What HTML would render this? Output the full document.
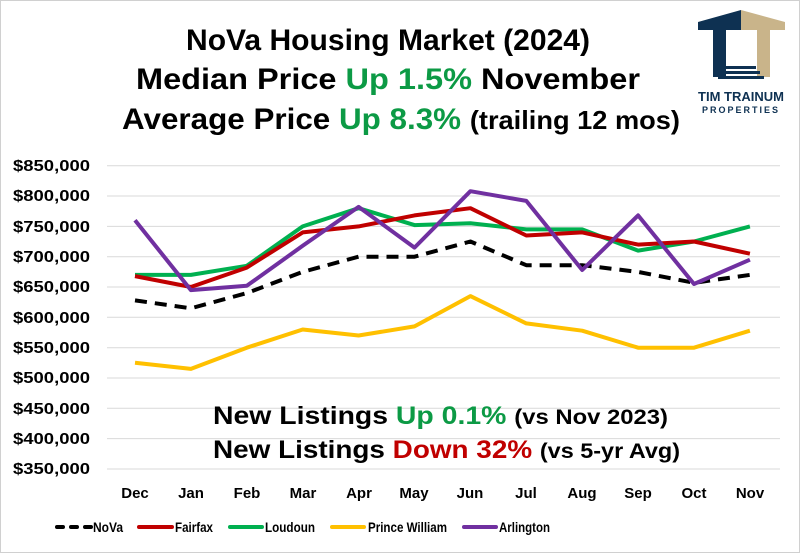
<!DOCTYPE html>
<html><head><meta charset="utf-8"><style>
body{margin:0;background:#fff}
svg{display:block;font-family:"Liberation Sans",sans-serif}
</style></head><body>
<svg width="800" height="553" viewBox="0 0 800 553">
<rect x="0.5" y="0.5" width="799" height="552" fill="#fff" stroke="#d0d0d0"/>
<g font-weight="bold" font-size="30" fill="#000">
<text x="186" y="50" textLength="404" lengthAdjust="spacingAndGlyphs">NoVa Housing Market (2024)</text>
<text x="136" y="89" textLength="504" lengthAdjust="spacingAndGlyphs">Median Price <tspan fill="#0c9a45">Up 1.5%</tspan> November</text>
<text x="122" y="129" textLength="558" lengthAdjust="spacingAndGlyphs">Average Price <tspan fill="#0c9a45">Up 8.3%</tspan> <tspan font-size="26">(trailing 12 mos)</tspan></text>
</g>
<g>
<polygon points="698,22 741,10 741,30 726,30 726,77 713,77 713,30 698,30" fill="#0e3152"/>
<polygon points="741,10 785,22 785,30 770,30 770,77 757,77 757,30 741,30" fill="#c9b48a"/>
<rect x="726" y="66" width="30" height="3" fill="#0e3152"/>
<rect x="722" y="71" width="38" height="3" fill="#0e3152"/>
<rect x="718" y="76" width="46" height="3" fill="#0e3152"/>
<text x="741" y="101" text-anchor="middle" font-weight="bold" font-size="13" fill="#0e3152">TIM TRAINUM</text>
<text x="741" y="113" text-anchor="middle" font-weight="bold" font-size="9" letter-spacing="2" fill="#0e3152">PROPERTIES</text>
</g>
<g stroke="#d9d9d9" stroke-width="1">
<line x1="107" x2="780" y1="165.7" y2="165.7"/><line x1="107" x2="780" y1="196" y2="196"/>
<line x1="107" x2="780" y1="226.4" y2="226.4"/><line x1="107" x2="780" y1="256.7" y2="256.7"/>
<line x1="107" x2="780" y1="287" y2="287"/><line x1="107" x2="780" y1="317.3" y2="317.3"/>
<line x1="107" x2="780" y1="347.7" y2="347.7"/><line x1="107" x2="780" y1="378" y2="378"/>
<line x1="107" x2="780" y1="408.3" y2="408.3"/><line x1="107" x2="780" y1="438.6" y2="438.6"/>
<line x1="107" x2="780" y1="469" y2="469"/>
</g>
<g font-weight="bold" font-size="16" fill="#000">
<text x="13" y="171" textLength="77" lengthAdjust="spacingAndGlyphs">$850,000</text>
<text x="13" y="201" textLength="77" lengthAdjust="spacingAndGlyphs">$800,000</text>
<text x="13" y="232" textLength="77" lengthAdjust="spacingAndGlyphs">$750,000</text>
<text x="13" y="262" textLength="77" lengthAdjust="spacingAndGlyphs">$700,000</text>
<text x="13" y="292" textLength="77" lengthAdjust="spacingAndGlyphs">$650,000</text>
<text x="13" y="323" textLength="77" lengthAdjust="spacingAndGlyphs">$600,000</text>
<text x="13" y="353" textLength="77" lengthAdjust="spacingAndGlyphs">$550,000</text>
<text x="13" y="383" textLength="77" lengthAdjust="spacingAndGlyphs">$500,000</text>
<text x="13" y="414" textLength="77" lengthAdjust="spacingAndGlyphs">$450,000</text>
<text x="13" y="444" textLength="77" lengthAdjust="spacingAndGlyphs">$400,000</text>
<text x="13" y="474" textLength="77" lengthAdjust="spacingAndGlyphs">$350,000</text>
</g>
<g font-weight="bold" font-size="15" text-anchor="middle" fill="#000">
<text x="135" y="498">Dec</text><text x="191" y="498">Jan</text><text x="247" y="498">Feb</text>
<text x="303" y="498">Mar</text><text x="359" y="498">Apr</text><text x="414" y="498">May</text>
<text x="470" y="498">Jun</text><text x="526" y="498">Jul</text><text x="582" y="498">Aug</text>
<text x="638" y="498">Sep</text><text x="694" y="498">Oct</text><text x="750" y="498">Nov</text>
</g>
<g id="series"></g>
<script>
(function(){
function y(v){return 165.7+(850-v)/50*30.33;}
var xs=[];for(var i=0;i<12;i++)xs.push(135+i*55.9);
var S=[
["#00b050",[670,670,685,750,780,752,755,745,745,710,725,750],""],
["#c00000",[668,650,682,740,750,768,780,735,740,720,725,705],""],
["#000",[628,615,640,675,700,700,725,686,686,675,657,670],"12,8"],
["#ffc000",[525,515,550,580,570,585,635,590,578,550,550,578],""],
["#7030a0",[760,645,652,718,782,715,808,792,678,768,655,695],""]];
var g=document.getElementById('series');var ns="http://www.w3.org/2000/svg";
S.forEach(function(s){var p=document.createElementNS(ns,'polyline');
p.setAttribute('points',s[1].map(function(v,i){return xs[i].toFixed(1)+','+y(v).toFixed(1)}).join(' '));
p.setAttribute('fill','none');p.setAttribute('stroke',s[0]);p.setAttribute('stroke-width','4');
p.setAttribute('stroke-linejoin','round');if(s[2])p.setAttribute('stroke-dasharray',s[2]);
g.appendChild(p);});
})();
</script>
<g font-weight="bold" font-size="25" fill="#000">
<text x="213" y="424" textLength="455" lengthAdjust="spacingAndGlyphs">New Listings <tspan fill="#0c9a45">Up 0.1%</tspan> <tspan font-size="21">(vs Nov 2023)</tspan></text>
<text x="213" y="458" textLength="467" lengthAdjust="spacingAndGlyphs">New Listings <tspan fill="#c00000">Down 32%</tspan> <tspan font-size="21">(vs 5-yr Avg)</tspan></text>
</g>
<g stroke-width="4" stroke-linecap="round">
<line x1="57" x2="91" y1="527" y2="527" stroke="#000" stroke-dasharray="6,8"/>
<line x1="139" x2="172" y1="527" y2="527" stroke="#c00000"/>
<line x1="230" x2="262" y1="527" y2="527" stroke="#00b050"/>
<line x1="332" x2="364" y1="527" y2="527" stroke="#ffc000"/>
<line x1="464" x2="496" y1="527" y2="527" stroke="#7030a0"/>
</g>
<g font-weight="bold" font-size="14" fill="#000">
<text x="93" y="532" textLength="30" lengthAdjust="spacingAndGlyphs">NoVa</text>
<text x="175" y="532" textLength="38" lengthAdjust="spacingAndGlyphs">Fairfax</text>
<text x="265" y="532" textLength="50" lengthAdjust="spacingAndGlyphs">Loudoun</text>
<text x="368" y="532" textLength="79" lengthAdjust="spacingAndGlyphs">Prince William</text>
<text x="499" y="532" textLength="51" lengthAdjust="spacingAndGlyphs">Arlington</text>
</g>
</svg>
</body></html>
